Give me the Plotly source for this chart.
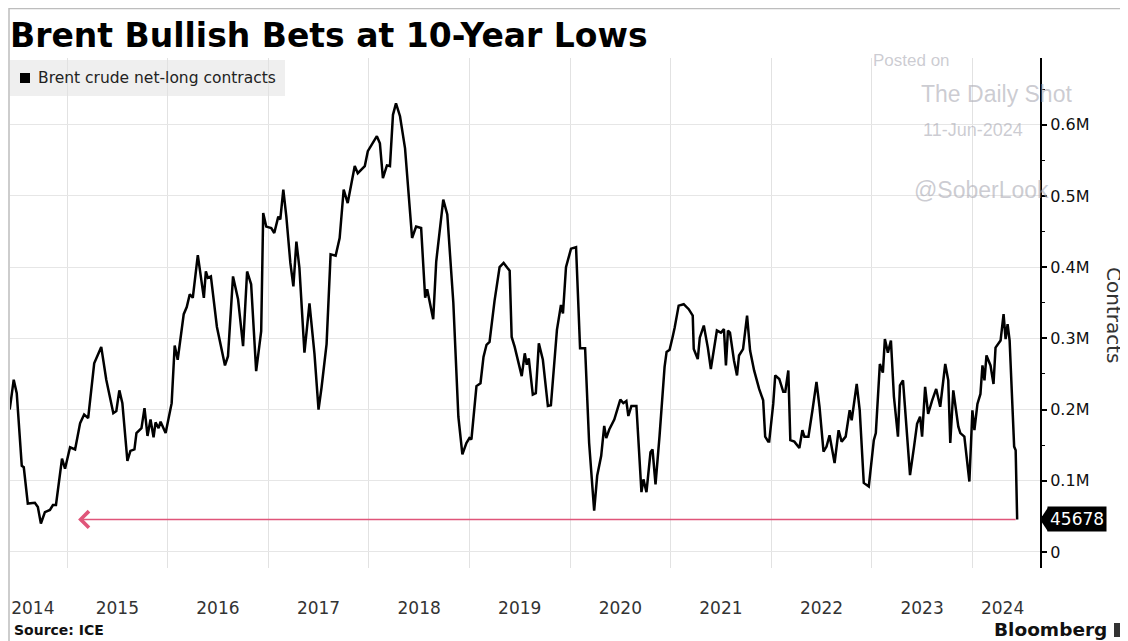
import plotly.graph_objects as go

# ---------------- data ----------------
t_years = [
    2014.43, 2014.47, 2014.50, 2014.55, 2014.57, 2014.61, 2014.68, 2014.71, 2014.74, 2014.78,
    2014.83, 2014.86, 2014.89, 2014.93, 2014.95, 2014.98, 2015.03, 2015.08, 2015.13, 2015.17,
    2015.21, 2015.27, 2015.34, 2015.39, 2015.46, 2015.49, 2015.52, 2015.55, 2015.60, 2015.63,
    2015.67, 2015.69, 2015.74, 2015.77, 2015.80, 2015.83, 2015.86, 2015.88, 2015.91, 2015.93,
    2015.98, 2016.04, 2016.07, 2016.10, 2016.16, 2016.19, 2016.22, 2016.25, 2016.30, 2016.36,
    2016.38, 2016.40, 2016.43, 2016.49, 2016.57, 2016.60, 2016.65, 2016.70, 2016.75, 2016.79,
    2016.83, 2016.88, 2016.93, 2016.95, 2016.98, 2017.03, 2017.06, 2017.10, 2017.12, 2017.15,
    2017.18, 2017.22, 2017.25, 2017.28, 2017.31, 2017.36, 2017.41, 2017.46, 2017.50, 2017.53,
    2017.58, 2017.62, 2017.67, 2017.71, 2017.75, 2017.79, 2017.83, 2017.86, 2017.89, 2017.96,
    2017.99, 2018.03, 2018.08, 2018.11, 2018.14, 2018.18, 2018.21, 2018.24, 2018.27, 2018.31,
    2018.36, 2018.43, 2018.47, 2018.52, 2018.56, 2018.58, 2018.64, 2018.67, 2018.74, 2018.78,
    2018.84, 2018.89, 2018.93, 2018.97, 2019.00, 2019.02, 2019.07, 2019.11, 2019.14, 2019.17,
    2019.20, 2019.25, 2019.30, 2019.34, 2019.40, 2019.42, 2019.45, 2019.52, 2019.55, 2019.57,
    2019.59, 2019.63, 2019.66, 2019.69, 2019.73, 2019.78, 2019.81, 2019.87, 2019.91, 2019.93,
    2019.96, 2020.01, 2020.06, 2020.10, 2020.15, 2020.19, 2020.24, 2020.27, 2020.31, 2020.34,
    2020.36, 2020.39, 2020.44, 2020.50, 2020.53, 2020.56, 2020.58, 2020.61, 2020.66, 2020.71,
    2020.73, 2020.76, 2020.77, 2020.80, 2020.82, 2020.85, 2020.89, 2020.94, 2020.96, 2020.99,
    2021.02, 2021.04, 2021.08, 2021.13, 2021.18, 2021.22, 2021.23, 2021.27, 2021.29, 2021.33,
    2021.37, 2021.40, 2021.46, 2021.50, 2021.53, 2021.55, 2021.57, 2021.59, 2021.63, 2021.66,
    2021.68, 2021.72, 2021.76, 2021.79, 2021.83, 2021.88, 2021.92, 2021.94, 2021.97, 2021.98,
    2022.02, 2022.04, 2022.08, 2022.12, 2022.14, 2022.17, 2022.19, 2022.23, 2022.28, 2022.31,
    2022.33, 2022.37, 2022.41, 2022.45, 2022.48, 2022.52, 2022.55, 2022.58, 2022.63, 2022.67,
    2022.70, 2022.74, 2022.78, 2022.80, 2022.85, 2022.88, 2022.92, 2022.97, 2023.02, 2023.04,
    2023.08, 2023.11, 2023.13, 2023.16, 2023.19, 2023.22, 2023.26, 2023.28, 2023.31, 2023.34,
    2023.38, 2023.42, 2023.45, 2023.48, 2023.50, 2023.53, 2023.56, 2023.60, 2023.64, 2023.68,
    2023.73, 2023.76, 2023.78, 2023.81, 2023.86, 2023.88, 2023.92, 2023.97, 2024.00, 2024.02,
    2024.05, 2024.08, 2024.10, 2024.12, 2024.14, 2024.18, 2024.21, 2024.23, 2024.28, 2024.31,
    2024.33, 2024.35, 2024.37, 2024.415, 2024.43, 2024.445,
]
net_long_k = [
    200, 242, 223, 121, 119, 68, 69, 63, 40, 56,
    59, 66, 66, 105, 131, 117, 147, 144, 181, 193,
    188, 265, 288, 242, 195, 198, 227, 209, 128, 142,
    144, 167, 174, 202, 163, 186, 161, 182, 174, 183,
    167, 209, 290, 270, 334, 344, 362, 357, 417, 357,
    394, 385, 387, 316, 262, 275, 387, 355, 289, 394,
    376, 254, 310, 476, 457, 455, 448, 471, 467, 509,
    471, 406, 373, 436, 399, 280, 349, 278, 200, 231,
    292, 418, 416, 441, 509, 490, 518, 542, 532, 542,
    563, 572, 584, 574, 525, 543, 542, 614, 630, 612,
    567, 441, 457, 455, 357, 369, 327, 408, 495, 474,
    350, 190, 137, 153, 160, 158, 233, 237, 274, 291,
    295, 353, 400, 406, 395, 302, 288, 247, 279, 263,
    272, 221, 223, 293, 270, 205, 206, 312, 347, 335,
    400, 426, 428, 286, 286, 153, 58, 107, 135, 177,
    160, 172, 186, 214, 209, 212, 191, 205, 205, 84,
    102, 84, 98, 140, 144, 95, 163, 260, 281, 284,
    302, 315, 346, 348, 341, 332, 285, 271, 301, 318,
    287, 257, 311, 308, 313, 262, 311, 308, 269, 248,
    276, 285, 332, 283, 255, 229, 213, 162, 155, 155,
    208, 248, 243, 225, 225, 255, 157, 155, 146, 171,
    162, 162, 199, 239, 204, 141, 148, 164, 125, 171,
    155, 162, 199, 185, 236, 199, 97, 92, 157, 167,
    264, 252, 299, 280, 297, 218, 162, 234, 241, 180,
    108, 148, 180, 190, 162, 232, 194, 213, 229, 204,
    264, 241, 153, 227, 176, 167, 162, 99, 199, 171,
    208, 222, 262, 241, 276, 262, 236, 287, 297, 334,
    299, 320, 297, 148, 143, 45.678,
]
contracts = [v * 1000 for v in net_long_k]
last_value = 45678
arrow_start_year = 2015.11

year_label_pos = [2014.66, 2015.5, 2016.5, 2017.5, 2018.5, 2019.5, 2020.5, 2021.5, 2022.5, 2023.5, 2024.30]
year_labels = ["2014", "2015", "2016", "2017", "2018", "2019", "2020", "2021", "2022", "2023", "2024"]
year_starts = [2015, 2016, 2017, 2018, 2019, 2020, 2021, 2022, 2023, 2024]
y_tickvals = [0, 100000, 200000, 300000, 400000, 500000, 600000]
y_ticktext = ["0", "0.1M", "0.2M", "0.3M", "0.4M", "0.5M", "0.6M"]
y_minor = [50000, 150000, 250000, 350000, 450000, 550000, 650000]

# ---------------- layout geometry ----------------
# the page body has an 8px margin, so the figure is 8px smaller and every
# reference-pixel position below is shifted by that offset
OFF = 8
W, H = 1128 - OFF, 641 - OFF
PL, PR, PT, PB = 10, 1040, 58, 568          # plot box in reference pixels
L, T = PL - OFF, PT - OFF
R, B = W - (PR - OFF), H - (PB - OFF)
PW, PH = W - L - R, H - T - B
YMIN, YMAX = -22500, 693800


def px(x):
    return (x - OFF - L) / PW


def py(y):
    return (H - B - (y - OFF)) / PH


FONT = "DejaVu Sans"
WM = "Liberation Sans"
wm_color = "rgba(170,170,180,0.6)"

fig = go.Figure()
fig.add_trace(go.Scatter(
    x=t_years, y=contracts, mode="lines",
    line=dict(color="#000000", width=2.5),
    showlegend=False, hoverinfo="skip",
))

ann = []
# red arrow to the latest level
ann.append(dict(x=arrow_start_year, y=last_value, ax=t_years[-1], ay=last_value,
                xref="x", yref="y", axref="x", ayref="y", text="", showarrow=True,
                arrowhead=4, arrowsize=2.0, arrowwidth=1.6, arrowcolor="#e0557a",
                standoff=0, startstandoff=0))
# last value label
ann.append(dict(x=px(1047), y=last_value, xref="paper", yref="y", text="45678",
                showarrow=False, xanchor="left", yanchor="middle",
                font=dict(family=FONT, size=17, color="white"),
                bgcolor="#000000", borderpad=2))
# legend text
ann.append(dict(x=px(36), y=py(78), xref="paper", yref="paper",
                text="Brent crude net-long contracts", showarrow=False,
                xanchor="left", yanchor="middle",
                font=dict(family=FONT, size=15.5, color="#222222")))
# right axis title
ann.append(dict(x=px(1114), y=py(315), xref="paper", yref="paper", text="Contracts",
                textangle=90, showarrow=False, xanchor="center", yanchor="middle",
                font=dict(family=FONT, size=20, color="#333333")))
# watermark
wm = [("Posted on", 911, 61, 17), ("The Daily Shot", 996, 94, 23),
      ("11-Jun-2024", 973, 130, 18), ("@SoberLook", 981, 190, 23)]
for txt, cx, cy, sz in wm:
    ann.append(dict(x=px(cx), y=py(cy), xref="paper", yref="paper", text=txt,
                    showarrow=False, xanchor="center", yanchor="middle",
                    font=dict(family=WM, size=sz, color=wm_color)))
# footer
ann.append(dict(x=px(12), y=py(630), xref="paper", yref="paper", text="<b>Source: ICE</b>",
                showarrow=False, xanchor="left", yanchor="middle",
                font=dict(family=FONT, size=14, color="#111111")))
ann.append(dict(x=px(1109), y=py(629), xref="paper", yref="paper", text="<b>Bloomberg</b>",
                showarrow=False, xanchor="right", yanchor="middle",
                font=dict(family=FONT, size=18.5, color="#111111")))

dy = 12 / PH * (YMAX - YMIN)  # 12 px in data units
shapes = [
    # legend background and swatch
    dict(type="rect", xref="paper", yref="paper", x0=px(10), x1=px(285), y0=py(60), y1=py(96),
         fillcolor="#efefef", line=dict(width=0), layer="below"),
    dict(type="rect", xref="paper", yref="paper", x0=px(20), x1=px(30), y0=py(73), y1=py(83),
         fillcolor="#000000", line=dict(width=0)),
    # pointer of the last value label
    dict(type="path", xref="paper", yref="y",
         path=f"M {px(1040)},{last_value} L {px(1048)},{last_value + dy} L {px(1048)},{last_value - dy} Z",
         fillcolor="#000000", line=dict(width=0)),
    # frame lines
    dict(type="line", xref="paper", yref="paper", x0=px(9), x1=px(1128), y0=py(8.5), y1=py(8.5),
         line=dict(color="#bdbdbd", width=1.5)),
    dict(type="line", xref="paper", yref="paper", x0=px(9), x1=px(9), y0=py(8), y1=py(641),
         line=dict(color="#bdbdbd", width=1.5)),
    # Bloomberg glyph
    dict(type="rect", xref="paper", yref="paper", x0=px(1114), x1=px(1125), y0=py(623), y1=py(637),
         fillcolor="#333333", line=dict(width=0)),
]

fig.update_layout(
    width=W, height=H,
    margin=dict(l=L, r=R, t=T, b=B),
    paper_bgcolor="white", plot_bgcolor="white",
    title=dict(text="<b>Brent Bullish Bets at 10-Year Lows</b>", x=(10 - OFF) / W, xanchor="left",
               y=(H - (35 - OFF)) / H, yanchor="middle", xref="container", yref="container",
               font=dict(family=FONT, size=33, color="#000000")),
    xaxis=dict(
        range=[2014.433, 2024.672], tickmode="array", tickvals=year_label_pos, ticktext=year_labels,
        showgrid=False, zeroline=False, showline=False, ticks="",
        ticklabelstandoff=28,
        tickfont=dict(family=FONT, size=17, color="#333333"),
        minor=dict(tickmode="array", tickvals=year_starts, showgrid=True,
                   gridcolor="#e2e2e2", gridwidth=1, ticks=""),
    ),
    yaxis=dict(
        side="right", range=[YMIN, YMAX], tickmode="array", tickvals=y_tickvals,
        ticktext=y_ticktext, showgrid=True, gridcolor="#e6e6e6", gridwidth=1, zeroline=False,
        showline=True, linecolor="#000000", linewidth=2, ticks="outside", ticklen=5,
        tickwidth=1.5, tickcolor="#000000",
        tickfont=dict(family=FONT, size=16, color="#111111"),
        minor=dict(tickmode="array", tickvals=y_minor, ticks="outside", ticklen=3,
                   tickwidth=1, tickcolor="#000000", showgrid=False),
    ),
    annotations=ann,
    shapes=shapes,
)

fig.write_html("out.html")
